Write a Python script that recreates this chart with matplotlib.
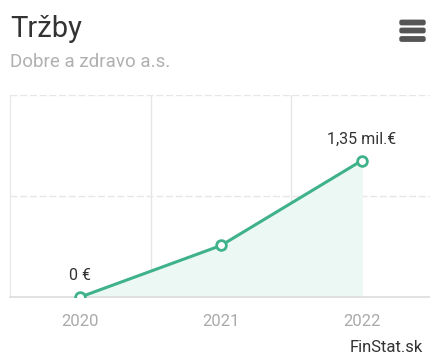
import matplotlib
matplotlib.use('Agg')
import matplotlib.pyplot as plt
from matplotlib.patches import FancyBboxPatch

plt.rcParams['font.family'] = ['Roboto', 'DejaVu Sans']

years = ['2020', '2021', '2022']
revenue = [0.0, 0.51, 1.35]   # mil. EUR
point_labels = ['0 €', '', '1,35 mil.€']

line_col = '#3fb28a'
fill_col = '#ebf8f3'
grid_col = '#e6e6e6'

W, H = 430, 356
fig = plt.figure(figsize=(W / 100, H / 100), dpi=100)
fig.patch.set_facecolor('white')

# plot area in pixels: left 10, right 432, top 95, bottom 297
ax = fig.add_axes([10 / W, (H - 297) / H, 422 / W, (297 - 95) / H])
ax.set_xlim(-0.5, 2.5)
ax.set_ylim(0, 2.0)
x = list(range(len(years)))

ax.fill_between(x, revenue, 0, color=fill_col, zorder=1)
ax.plot(x, revenue, color=line_col, lw=2.2, zorder=3,
        marker='o', ms=7, mfc='white', mec=line_col, mew=2)

for xi, v, lab in zip(x, revenue, point_labels):
    if lab:
        ax.annotate(lab, (xi, v), xytext=(0, 10), textcoords='offset points',
                    ha='center', va='bottom', fontsize=11.5, color='#333333')

# grid: dashed horizontals, solid verticals between categories
for yv in [1.0, 2.0]:
    ax.axhline(yv, color=grid_col, lw=1, ls=(0, (5, 2)), zorder=0)
for xv in [0.5, 1.5]:
    ax.axvline(xv, color=grid_col, lw=1, zorder=0)

for s in ['top', 'right']:
    ax.spines[s].set_visible(False)
ax.spines['left'].set_color(grid_col)
ax.spines['bottom'].set_color('#dddddd')
ax.spines['bottom'].set_linewidth(1.2)

ax.set_xticks(x)
ax.set_xticklabels(years)
ax.tick_params(axis='x', length=0, pad=12, labelsize=12, labelcolor='#aaaaaa')
ax.set_yticks([])

fig.text(10 / W, 1 - 37 / H, 'Tržby', fontsize=21, color='#333333', va='baseline', ha='left')
fig.text(10 / W, 1 - 62 / H, 'Dobre a zdravo a.s.', fontsize=13.5, color='#b0b0b0',
         va='center', ha='left')
fig.text(423 / W, 1 - 348 / H, 'FinStat.sk', fontsize=12, color='#333333',
         va='center', ha='right')

# menu icon
for yy in [22.5, 30.5, 39]:
    fig.patches.append(FancyBboxPatch((400 / W, 1 - (yy + 2.2) / H), 25 / W, 4.4 / H,
                                      boxstyle='round,pad=0,rounding_size=0.004',
                                      transform=fig.transFigure, color='#555555'))

fig.savefig('out.png', dpi=100)
